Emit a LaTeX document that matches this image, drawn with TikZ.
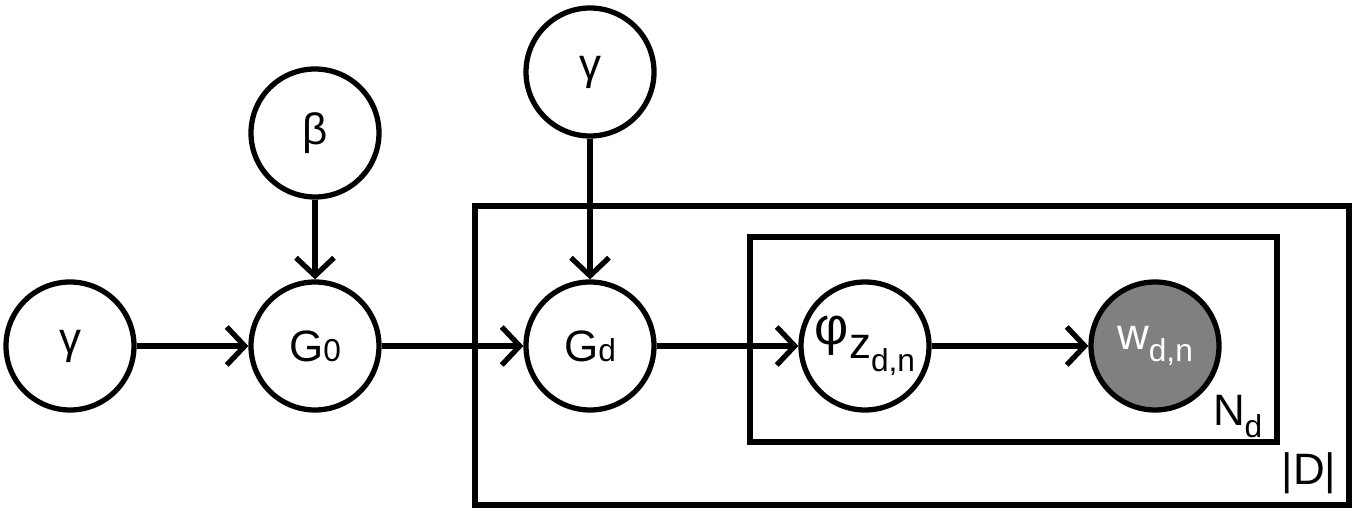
\documentclass[tikz,border=0pt]{standalone}
\usepackage{fontspec}
\setmainfont{Liberation Sans}
\usetikzlibrary{arrows.meta,positioning}
\definecolor{Wgray}{RGB}{128,128,128}
\newcommand{\sbs}[1]{\raisebox{-0.55ex}{\fontsize{9}{11}\selectfont #1}}
\tikzset{
  edge/.style={-{Straight Barb[length=1.8mm,width=3.8mm]}, line width=1.5pt},
  var/.style={circle, draw, line width=1.5pt, minimum size=1.28cm, inner sep=0pt, font=\fontsize{12.5}{14}\selectfont},
  obs/.style={var, fill=Wgray, text=white},
  plate/.style={draw, line width=1.5pt},
  platelabel/.style={inner sep=0pt, font=\fontsize{12.5}{14}\selectfont}
}
\begin{document}
\begin{tikzpicture}[on grid]
  \useasboundingbox (0,0) rectangle (13.58,5.14);
  % plates
  \draw[plate] (4.75,0.09) rectangle (13.49,3.08);
  \draw[plate] (7.50,0.72) rectangle (12.77,2.77);
  \node[platelabel, anchor=south east] (nd) at (12.63,0.75) {N\sbs{d}};
  \node[platelabel, anchor=base east] (dd) at (13.37,0.30) {|D|};
  % variables
  \node[var] (gamma0) at (0.70,1.68) {γ};
  \node[var, right=2.45cm of gamma0] (g0) {G{\fontsize{9}{11}\selectfont 0}};
  \node[var, above=2.13cm of g0] (beta) {β};
  \node[var, right=2.75cm of g0] (gd) {G{\fontsize{9}{11}\selectfont d}};
  \node[var, above=2.74cm of gd] (gamma1) {γ};
  \node[var, right=2.75cm of gd] (phi) {{\fontsize{15}{17}\selectfont φ}\raisebox{-0.6ex}{z\sbs{d,n}}};
  \node[obs, right=2.9cm of phi] (w) {w\sbs{d,n}};
  % edges
  \draw[edge] (gamma0) -- (g0);
  \draw[edge] (beta) -- (g0);
  \draw[edge] (g0) -- (gd);
  \draw[edge] (gamma1) -- (gd);
  \draw[edge] (gd) -- (phi);
  \draw[edge] (phi) -- (w);
\end{tikzpicture}
\end{document}
